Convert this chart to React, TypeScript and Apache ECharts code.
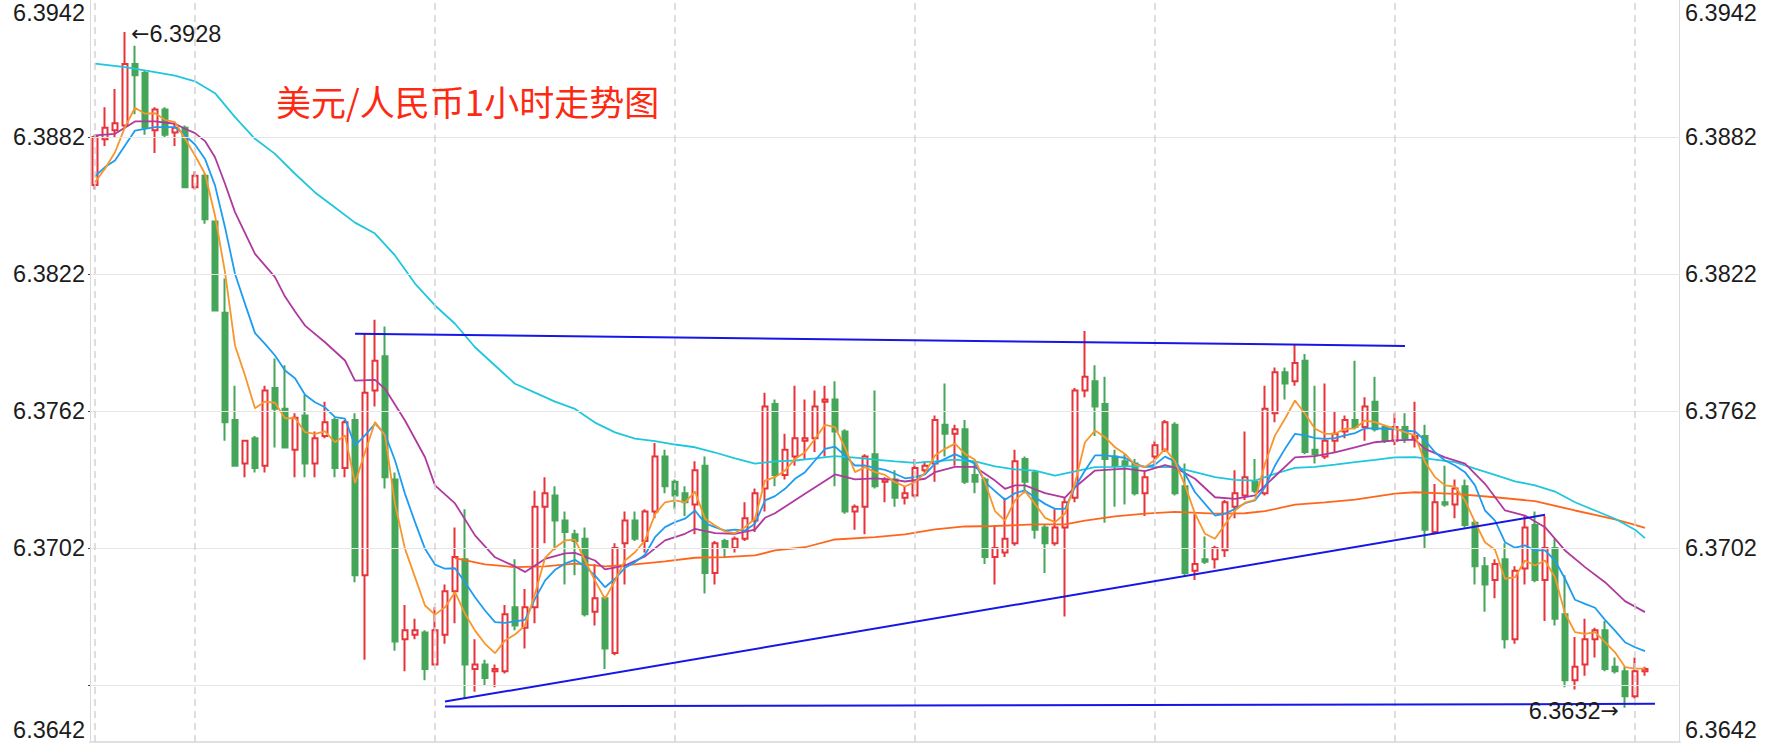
import React, { useEffect, useRef } from "react";
import * as echarts from "echarts";

// hidden hourly slots (156 candles + 3 empty slots on the right)
const categories: string[] = Array.from({ length: 159 }, (_, i) => String(i));

// [open, close, low, high]
const candles: number[][] = [
  [6.3861, 6.3882, 6.3859, 6.3883], [6.3881, 6.3886, 6.3878, 6.3895], [6.3885, 6.3888, 6.3882, 6.3903], [6.3887, 6.3914, 6.3886, 6.3928],
  [6.3914, 6.3909, 6.3892, 6.3922], [6.3910, 6.3886, 6.3883, 6.3911], [6.3885, 6.3894, 6.3875, 6.3895], [6.3894, 6.3883, 6.3882, 6.3895],
  [6.3884, 6.3886, 6.3878, 6.3888], [6.3886, 6.3860, 6.3860, 6.3887], [6.3860, 6.3865, 6.3859, 6.3867], [6.3865, 6.3846, 6.3844, 6.3866],
  [6.3845, 6.3806, 6.3806, 6.3845], [6.3805, 6.3757, 6.3749, 6.3820], [6.3758, 6.3738, 6.3738, 6.3773], [6.3739, 6.3749, 6.3733, 6.3749],
  [6.3750, 6.3737, 6.3735, 6.3751], [6.3738, 6.3771, 6.3735, 6.3773], [6.3772, 6.3763, 6.3746, 6.3785], [6.3763, 6.3746, 6.3746, 6.3782],
  [6.3745, 6.3759, 6.3733, 6.3761], [6.3760, 6.3739, 6.3733, 6.3769], [6.3739, 6.3750, 6.3733, 6.3753], [6.3751, 6.3757, 6.3750, 6.3766],
  [6.3758, 6.3737, 6.3733, 6.3759], [6.3737, 6.3757, 6.3733, 6.3758], [6.3758, 6.3690, 6.3687, 6.3761], [6.3690, 6.3770, 6.3653, 6.3796],
  [6.3771, 6.3784, 6.3764, 6.3802], [6.3786, 6.3733, 6.3728, 6.3799], [6.3732, 6.3661, 6.3657, 6.3735], [6.3662, 6.3666, 6.3648, 6.3677],
  [6.3664, 6.3666, 6.3662, 6.3671], [6.3665, 6.3649, 6.3644, 6.3666], [6.3651, 6.3666, 6.3651, 6.3676], [6.3664, 6.3683, 6.3660, 6.3686],
  [6.3683, 6.3698, 6.3669, 6.3711], [6.3697, 6.3651, 6.3636, 6.3719], [6.3649, 6.3651, 6.3639, 6.3662], [6.3651, 6.3645, 6.3642, 6.3653],
  [6.3648, 6.3649, 6.3641, 6.3651], [6.3648, 6.3673, 6.3647, 6.3677], [6.3676, 6.3668, 6.3666, 6.3697], [6.3667, 6.3676, 6.3658, 6.3684],
  [6.3676, 6.3720, 6.3669, 6.3727], [6.3720, 6.3726, 6.3704, 6.3733], [6.3725, 6.3714, 6.3701, 6.3729], [6.3714, 6.3709, 6.3686, 6.3718],
  [6.3708, 6.3705, 6.3690, 6.3710], [6.3706, 6.3673, 6.3672, 6.3711], [6.3674, 6.3680, 6.3668, 6.3695], [6.3680, 6.3658, 6.3649, 6.3681],
  [6.3656, 6.3702, 6.3655, 6.3704], [6.3704, 6.3714, 6.3686, 6.3718], [6.3714, 6.3706, 6.3705, 6.3718], [6.3705, 6.3718, 6.3700, 6.3719],
  [6.3718, 6.3742, 6.3715, 6.3748], [6.3742, 6.3729, 6.3726, 6.3745], [6.3731, 6.3725, 6.3719, 6.3732], [6.3726, 6.3722, 6.3716, 6.3729],
  [6.3721, 6.3736, 6.3708, 6.3740], [6.3738, 6.3691, 6.3682, 6.3742], [6.3691, 6.3704, 6.3686, 6.3705], [6.3705, 6.3702, 6.3698, 6.3706],
  [6.3702, 6.3706, 6.3700, 6.3707], [6.3706, 6.3715, 6.3705, 6.3722], [6.3714, 6.3726, 6.3709, 6.3728], [6.3728, 6.3764, 6.3718, 6.3770],
  [6.3765, 6.3734, 6.3729, 6.3767], [6.3734, 6.3745, 6.3732, 6.3752], [6.3742, 6.3750, 6.3738, 6.3773], [6.3749, 6.3750, 6.3741, 6.3767],
  [6.3750, 6.3764, 6.3744, 6.3771], [6.3766, 6.3767, 6.3742, 6.3773], [6.3767, 6.3753, 6.3729, 6.3775], [6.3753, 6.3718, 6.3717, 6.3754],
  [6.3718, 6.3720, 6.3710, 6.3721], [6.3720, 6.3742, 6.3708, 6.3743], [6.3743, 6.3729, 6.3728, 6.3771], [6.3731, 6.3732, 6.3722, 6.3733],
  [6.3732, 6.3724, 6.3720, 6.3736], [6.3724, 6.3726, 6.3721, 6.3729], [6.3725, 6.3737, 6.3724, 6.3741], [6.3736, 6.3738, 6.3735, 6.3740],
  [6.3739, 6.3758, 6.3731, 6.3760], [6.3756, 6.3752, 6.3742, 6.3774], [6.3752, 6.3754, 6.3738, 6.3756], [6.3754, 6.3731, 6.3730, 6.3758],
  [6.3734, 6.3731, 6.3726, 6.3740], [6.3732, 6.3698, 6.3695, 6.3733], [6.3698, 6.3702, 6.3686, 6.3712], [6.3700, 6.3706, 6.3698, 6.3724],
  [6.3704, 6.3740, 6.3703, 6.3745], [6.3741, 6.3731, 6.3726, 6.3742], [6.3735, 6.3710, 6.3706, 6.3736], [6.3711, 6.3704, 6.3691, 6.3712],
  [6.3704, 6.3711, 6.3703, 6.3719], [6.3711, 6.3722, 6.3672, 6.3724], [6.3724, 6.3771, 6.3722, 6.3772], [6.3771, 6.3777, 6.3768, 6.3797],
  [6.3775, 6.3764, 6.3751, 6.3782], [6.3765, 6.3741, 6.3713, 6.3777], [6.3742, 6.3738, 6.3720, 6.3745], [6.3740, 6.3738, 6.3721, 6.3743],
  [6.3739, 6.3726, 6.3725, 6.3741], [6.3726, 6.3733, 6.3716, 6.3736], [6.3742, 6.3747, 6.3738, 6.3749], [6.3745, 6.3757, 6.3744, 6.3758],
  [6.3756, 6.3726, 6.3725, 6.3757], [6.3729, 6.3691, 6.3690, 6.3739], [6.3692, 6.3695, 6.3688, 6.3717], [6.3697, 6.3696, 6.3695, 6.3707],
  [6.3697, 6.3702, 6.3693, 6.3703], [6.3701, 6.3722, 6.3698, 6.3723], [6.3720, 6.3726, 6.3715, 6.3736], [6.3725, 6.3733, 6.3723, 6.3753],
  [6.3731, 6.3727, 6.3726, 6.3741], [6.3726, 6.3763, 6.3725, 6.3773], [6.3761, 6.3779, 6.3757, 6.3781], [6.3779, 6.3774, 6.3767, 6.3781],
  [6.3775, 6.3783, 6.3773, 6.3791], [6.3784, 6.3744, 6.3743, 6.3787], [6.3745, 6.3743, 6.3739, 6.3773], [6.3742, 6.3749, 6.3741, 6.3774],
  [6.3749, 6.3752, 6.3744, 6.3762], [6.3753, 6.3758, 6.3750, 6.3760], [6.3758, 6.3755, 6.3754, 6.3784], [6.3755, 6.3764, 6.3749, 6.3768],
  [6.3766, 6.3754, 6.3753, 6.3777], [6.3755, 6.3749, 6.3748, 6.3756], [6.3749, 6.3755, 6.3747, 6.3761], [6.3755, 6.3750, 6.3748, 6.3761],
  [6.3750, 6.3751, 6.3746, 6.3766], [6.3751, 6.3710, 6.3702, 6.3756], [6.3709, 6.3722, 6.3708, 6.3730], [6.3722, 6.3721, 6.3720, 6.3738],
  [6.3721, 6.3728, 6.3715, 6.3732], [6.3729, 6.3712, 6.3711, 6.3732], [6.3713, 6.3694, 6.3686, 6.3714], [6.3694, 6.3686, 6.3674, 6.3698],
  [6.3688, 6.3695, 6.3680, 6.3697], [6.3697, 6.3662, 6.3658, 6.3704], [6.3662, 6.3692, 6.3660, 6.3694], [6.3693, 6.3711, 6.3686, 6.3716],
  [6.3712, 6.3688, 6.3687, 6.3718], [6.3688, 6.3702, 6.3670, 6.3716], [6.3702, 6.3671, 6.3668, 6.3706], [6.3673, 6.3644, 6.3641, 6.3690],
  [6.3644, 6.3650, 6.3640, 6.3663], [6.3651, 6.3662, 6.3646, 6.3671], [6.3662, 6.3666, 6.3654, 6.3667], [6.3666, 6.3649, 6.3648, 6.3670],
  [6.3650, 6.3648, 6.3647, 6.3654], [6.3648, 6.3637, 6.3632, 6.3650], [6.3637, 6.3648, 6.3636, 6.3654], [6.3648, 6.3649, 6.3646, 6.3650],
];

// moving-average lines
const ma5: number[] = [
  6.38622, 6.38681, 6.38753, 6.38863, 6.38948, 6.38922, 6.38924, 6.38895, 6.38885, 6.38812, 6.38739, 6.38659, 6.38476, 6.38228, 6.37907, 6.37775,
  6.37632, 6.37661, 6.37656, 6.37588, 6.37589, 6.37527, 6.3752, 6.37531, 6.37483, 6.37513, 6.37304, 6.37439, 6.37571, 6.37513, 6.37213, 6.37016,
  6.36892, 6.36768, 6.36728, 6.3676, 6.36826, 6.36732, 6.36658, 6.366, 6.36559, 6.36615, 6.36641, 6.3668, 6.36819, 6.36975, 6.37021, 6.37053,
  6.37056, 6.36965, 6.36877, 6.36797, 6.36877, 6.36965, 6.37001, 6.37053, 6.37167, 6.3722, 6.37228, 6.3722, 6.37267, 6.37148, 6.37118, 6.37092,
  6.37085, 6.37111, 6.37148, 6.37315, 6.3733, 6.37359, 6.3741, 6.37439, 6.37498, 6.37559, 6.37549, 6.37459, 6.37352, 6.37374, 6.37352, 6.3734,
  6.37308, 6.37289, 6.37308, 6.37349, 6.37425, 6.37454, 6.37477, 6.37432, 6.37406, 6.37308, 6.37181, 6.3714, 6.37228, 6.37269, 6.37213, 6.37152,
  6.37133, 6.3717, 6.37304, 6.37483, 6.37534, 6.37505, 6.37461, 6.37432, 6.37385, 6.37374, 6.37406, 6.37454, 6.37399, 6.37294, 6.3717, 6.37082,
  6.3706, 6.37123, 6.37184, 6.37218, 6.37231, 6.37389, 6.37513, 6.37586, 6.37666, 6.37608, 6.37542, 6.3752, 6.3752, 6.37542, 6.37544, 6.37578,
  6.37571, 6.37556, 6.37543, 6.37527, 6.37513, 6.37396, 6.3733, 6.37294, 6.37289, 6.37228, 6.37133, 6.37045, 6.37012, 6.36885, 6.36892, 6.36965,
  6.36943, 6.36965, 6.36892, 6.36734, 6.36651, 6.36644, 6.36651, 6.36607, 6.36563, 6.36498, 6.36491, 6.36491,
];

const ma10: number[] = [
  6.38648, 6.38688, 6.38717, 6.38783, 6.38848, 6.38856, 6.38863, 6.38863, 6.38863, 6.38827, 6.38787, 6.38724, 6.38608, 6.38425, 6.38221, 6.38089,
  6.37961, 6.37914, 6.37863, 6.37797, 6.37763, 6.37691, 6.37658, 6.37636, 6.37593, 6.37586, 6.37469, 6.37513, 6.37564, 6.3752, 6.37403, 6.37257,
  6.37133, 6.37016, 6.36947, 6.36929, 6.36931, 6.3687, 6.36804, 6.36746, 6.36695, 6.36692, 6.36698, 6.36705, 6.36797, 6.36877, 6.36924, 6.36951,
  6.36968, 6.36939, 6.36899, 6.36848, 6.36885, 6.36933, 6.36958, 6.3699, 6.37067, 6.37111, 6.37133, 6.37148, 6.37184, 6.37128, 6.37111, 6.37096,
  6.371, 6.37096, 6.37126, 6.37228, 6.37247, 6.37279, 6.37323, 6.37352, 6.37403, 6.37454, 6.37464, 6.37425, 6.37381, 6.37381, 6.37371, 6.37362,
  6.37345, 6.37325, 6.3733, 6.37342, 6.37389, 6.3741, 6.37431, 6.3741, 6.37389, 6.37308, 6.37269, 6.37231, 6.3726, 6.37272, 6.37242, 6.37213,
  6.37191, 6.37191, 6.37286, 6.37359, 6.37425, 6.37425, 6.3742, 6.37415, 6.37389, 6.37374, 6.37385, 6.3742, 6.37399, 6.37345, 6.37264, 6.37213,
  6.37162, 6.3717, 6.37191, 6.37216, 6.37228, 6.37286, 6.37381, 6.37454, 6.3752, 6.37513, 6.37501, 6.37498, 6.37501, 6.37513, 6.37523, 6.37544,
  6.37544, 6.37542, 6.37539, 6.37534, 6.3753, 6.37491, 6.37439, 6.37403, 6.37381, 6.37352, 6.37294, 6.37184, 6.3714, 6.37045, 6.37021, 6.37031,
  6.37009, 6.37009, 6.36965, 6.36885, 6.36793, 6.36775, 6.36758, 6.36705, 6.36658, 6.36607, 6.36585, 6.36568,
];

// [candle index, value]
const ma20: number[][] = [
  [0, 6.38827], [2, 6.38834], [4, 6.38888], [6, 6.38888], [8, 6.38878], [9, 6.38856], [10, 6.38837], [11, 6.38802], [12, 6.38731], [13, 6.38615],
  [14, 6.38491], [16, 6.38308], [18, 6.38206], [19, 6.38121], [20, 6.38056], [21, 6.37994], [23, 6.37921], [25, 6.37841], [26, 6.37753], [28, 6.37756],
  [29, 6.37717], [31, 6.37578], [33, 6.37417], [34, 6.37294], [36, 6.37215], [38, 6.37075], [40, 6.36979], [42, 6.36939], [43, 6.36915], [45, 6.36972],
  [47, 6.36996], [48, 6.36998], [50, 6.36965], [51, 6.36926], [53, 6.36943], [55, 6.36983], [57, 6.37053], [59, 6.37082], [60, 6.37104], [62, 6.37085],
  [64, 6.37082], [66, 6.371], [67, 6.37152], [68, 6.37172], [71, 6.37257], [74, 6.37342], [76, 6.3732], [78, 6.37325], [80, 6.37318], [81, 6.37311],
  [83, 6.37323], [84, 6.37352], [86, 6.37375], [88, 6.37375], [90, 6.37315], [91, 6.37279], [92, 6.37294], [93, 6.37294], [95, 6.3726], [97, 6.3724],
  [98, 6.37286], [100, 6.37359], [103, 6.37367], [105, 6.37356], [107, 6.37383], [108, 6.37372], [110, 6.37323], [112, 6.37242], [114, 6.37235], [116, 6.3725],
  [118, 6.37334], [120, 6.37417], [122, 6.37422], [124, 6.37439], [126, 6.37461], [128, 6.37483], [130, 6.37491], [132, 6.37494], [133, 6.37454], [135, 6.37417],
  [137, 6.37389], [139, 6.37301], [141, 6.37184], [143, 6.37162], [145, 6.37111], [147, 6.37009], [149, 6.36936], [151, 6.3687], [153, 6.36787], [155, 6.36739],
];

const ma60: number[][] = [
  [0, 6.39141], [3, 6.39126], [6, 6.39104], [8, 6.39089], [10, 6.39064], [12, 6.39012], [14, 6.38907], [16, 6.38812], [18, 6.38746], [20, 6.38659],
  [22, 6.38577], [24, 6.38511], [26, 6.38445], [28, 6.38397], [30, 6.38301], [32, 6.38178], [34, 6.38082], [36, 6.38002], [38, 6.37899], [40, 6.37819],
  [42, 6.37739], [44, 6.377], [46, 6.37661], [48, 6.37629], [50, 6.37569], [52, 6.37526], [54, 6.37499], [56, 6.37488], [58, 6.37473], [60, 6.37461],
  [62, 6.37438], [64, 6.37412], [66, 6.37389], [68, 6.37399], [70, 6.37403], [72, 6.37412], [74, 6.37422], [76, 6.37416], [78, 6.37407], [80, 6.37399],
  [82, 6.37393], [84, 6.37399], [86, 6.37407], [88, 6.37399], [90, 6.37377], [92, 6.37364], [94, 6.37359], [96, 6.37337], [98, 6.37355], [100, 6.37374],
  [102, 6.37375], [104, 6.37378], [106, 6.37374], [108, 6.37374], [110, 6.37352], [112, 6.3733], [114, 6.37318], [116, 6.37315], [118, 6.37345], [120, 6.37371],
  [122, 6.37375], [124, 6.37385], [126, 6.37396], [128, 6.37406], [130, 6.37417], [132, 6.37418], [134, 6.37407], [136, 6.37396], [138, 6.37367], [140, 6.3734],
  [142, 6.37312], [144, 6.37294], [146, 6.37267], [148, 6.3722], [150, 6.37184], [152, 6.37148], [154, 6.371], [155, 6.37063],
];

const ma120: number[][] = [
  [36, 6.36975], [39, 6.36948], [42, 6.36936], [45, 6.36939], [48, 6.36951], [51, 6.36939], [54, 6.36948], [57, 6.36961], [60, 6.36977], [63, 6.3698],
  [66, 6.36987], [68, 6.37009], [71, 6.37023], [74, 6.37057], [78, 6.37067], [81, 6.37079], [84, 6.37101], [87, 6.37114], [90, 6.37116], [94, 6.37123],
  [97, 6.37123], [99, 6.3714], [102, 6.37158], [105, 6.3717], [108, 6.37178], [112, 6.3717], [115, 6.37172], [117, 6.37181], [120, 6.3721], [123, 6.3722],
  [126, 6.37232], [128, 6.37245], [130, 6.37258], [132, 6.37264], [136, 6.37257], [140, 6.37242], [144, 6.37225], [148, 6.37184], [150, 6.37165], [152, 6.37145],
  [154, 6.37121], [155, 6.37108],
];

// hand-drawn trend lines: [[startIndex, startValue], [endIndex, endValue]]
const trendLines: number[][][] = [
  [[26, 6.37958], [131, 6.37905]],
  [[35, 6.36347], [145, 6.37165]],
  [[35, 6.36326], [156, 6.36337]],
];

const dayLines: number[] = [0, 10, 34, 58, 82, 106, 130, 154];
const gridValues: number[] = [6.3882, 6.3822, 6.3762, 6.3702, 6.3642];
const labelValues: number[] = [6.3882, 6.3822, 6.3762, 6.3702];
const topLabel = "6.3942";
const bottomLabel = "6.3642";
const highMark = { index: 3, value: 6.3928 };
const lowMark = { index: 153, value: 6.3632 };
const titleText = "美元/人民币1小时走势图";

const W = 1774;
const H = 746;
const FONT = "'Liberation Sans', Arial, Helvetica, sans-serif";
const ARROW_FONT = "'DejaVu Sans', sans-serif";
const LABEL_SIZE = 23.5;
const LABEL_COLOR = "#1c1c1c";

export default function App() {
  const ref = useRef<HTMLDivElement>(null);

  useEffect(() => {
    if (!ref.current) return;
    const chart = echarts.init(ref.current, undefined, { renderer: "svg" });

    const gridLeft = 90;
    const gridRight = 94;
    const gridTop = 0;
    const gridBottom = 4;
    const yMax = 6.3942;
    const yMin = 6.3617;

    const lineSeries = (name: string, data: any[], color: string, z: number) => ({
      name,
      type: "line",
      data,
      showSymbol: false,
      symbol: "none",
      connectNulls: true,
      smooth: false,
      silent: true,
      z,
      lineStyle: { color, width: 1.8 },
    });

    const markLabel = (text: string, position: string, offset: number[]) => ({
      show: true,
      position,
      distance: 6,
      offset,
      formatter: text,
      color: LABEL_COLOR,
      fontSize: LABEL_SIZE,
      fontFamily: FONT,
      rich: {
        a: { fontFamily: ARROW_FONT, fontSize: 22, color: LABEL_COLOR },
      },
    });

    const option: any = {
      animation: false,
      backgroundColor: "#ffffff",
      textStyle: { fontFamily: FONT },
      title: {
        text: titleText,
        left: 276,
        top: 83,
        padding: 0,
        textStyle: {
          color: "#fc2a12",
          fontSize: 35,
          fontWeight: "normal",
          fontFamily: "'Noto Sans CJK SC', sans-serif",
        },
      },
      grid: { left: gridLeft, right: gridRight, top: gridTop, bottom: gridBottom, containLabel: false, show: false },
      xAxis: {
        type: "category",
        data: categories,
        boundaryGap: true,
        axisLine: { show: true, lineStyle: { color: "#e0e0e0", width: 2 } },
        axisTick: { show: false },
        axisLabel: { show: false },
        splitLine: { show: false },
      },
      yAxis: {
        type: "value",
        min: yMin,
        max: yMax,
        splitLine: { show: false },
        axisLine: { show: false },
        axisTick: { show: false },
        axisLabel: { show: false },
      },
      series: [
        {
          name: "grid",
          type: "line",
          data: [],
          z: 0,
          silent: true,
          markLine: {
            silent: true,
            precision: 6,
            symbol: ["none", "none"],
            label: { show: false },
            lineStyle: { color: "#e6e6e6", width: 1, type: "solid" },
            data: [
              ...gridValues.map((v) => ({ yAxis: v })),
              ...dayLines.map((i) => ({
                xAxis: i,
                lineStyle: { color: "#d4d4d4", width: 1.5, type: [7, 5] },
              })),
            ],
          },
        },
        {
          name: "K",
          type: "candlestick",
          data: candles,
          barWidth: 6,
          z: 2,
          silent: true,
          itemStyle: {
            color: "#ffffff",
            color0: "#45a659",
            borderColor: "#e8333a",
            borderColor0: "#45a659",
            borderWidth: 2,
          },
          markPoint: {
            silent: true,
            symbol: "circle",
            symbolSize: 0,
            itemStyle: { color: "transparent" },
            data: [
              {
                coord: [highMark.index, highMark.value],
                label: markLabel("{a|←}" + highMark.value.toFixed(4), "right", [0, 2]),
              },
              {
                coord: [lowMark.index, lowMark.value],
                label: markLabel(lowMark.value.toFixed(4) + "{a|→}", "left", [0, 3]),
              },
            ],
          },
        },
        lineSeries("MA120", ma120, "#ff661c", 3),
        lineSeries("MA60", ma60, "#1fc7dc", 3),
        lineSeries("MA20", ma20, "#b0399f", 3),
        lineSeries("MA10", ma10, "#1e9cf1", 3),
        lineSeries("MA5", ma5, "#f8952b", 3),
        {
          name: "trend",
          type: "line",
          data: [],
          z: 4,
          silent: true,
          markLine: {
            silent: true,
            precision: 6,
            symbol: ["none", "none"],
            label: { show: false },
            lineStyle: { color: "#1616e6", width: 2, type: "solid" },
            data: trendLines.map((seg) => [
              { coord: [seg[0][0], seg[0][1]] },
              { coord: [seg[1][0], seg[1][1]] },
            ]),
          },
        },
      ],
    };

    chart.setOption(option);

    // axis frame, ticks and price labels placed through the y scale
    const toY = (v: number) => chart.convertToPixel({ yAxisIndex: 0 }, v) as number;
    const xL = gridLeft;
    const xR = W - gridRight;
    const yTop = toY(yMax);
    const yBottom = toY(yMin);
    const txt = (text: string, x: number, y: number, align: string) => ({
      type: "text",
      silent: true,
      x,
      y,
      style: {
        text,
        align,
        verticalAlign: "middle",
        fontSize: LABEL_SIZE,
        fontFamily: FONT,
        fill: LABEL_COLOR,
      },
    });
    const graphics: any[] = [
      { type: "line", silent: true, shape: { x1: xL + 0.5, y1: yTop, x2: xL + 0.5, y2: yBottom }, style: { stroke: "#d9d9d9", lineWidth: 1 } },
      { type: "line", silent: true, shape: { x1: xR - 0.5, y1: yTop, x2: xR - 0.5, y2: yBottom }, style: { stroke: "#d9d9d9", lineWidth: 1 } },
    ];
    gridValues.forEach((v) => {
      const y = Math.round(toY(v)) + 0.5;
      graphics.push({ type: "line", silent: true, shape: { x1: xL - 2, y1: y, x2: xL, y2: y }, style: { stroke: "#444", lineWidth: 1 } });
    });
    labelValues.forEach((v) => {
      const y = toY(v);
      graphics.push(txt(v.toFixed(4), xL - 5, y, "right"));
      graphics.push(txt(v.toFixed(4), xR + 5, y, "left"));
    });
    graphics.push(txt(topLabel, xL - 5, yTop + 12.5, "right"));
    graphics.push(txt(topLabel, xR + 5, yTop + 12.5, "left"));
    graphics.push(txt(bottomLabel, xL - 5, yBottom - 12, "right"));
    graphics.push(txt(bottomLabel, xR + 5, yBottom - 12, "left"));
    chart.setOption({ graphic: graphics });

    return () => chart.dispose();
  }, []);

  return (
    <div
      ref={ref}
      style={{ position: "absolute", left: 0, top: 0, width: W, height: H, background: "#fff" }}
    />
  );
}
